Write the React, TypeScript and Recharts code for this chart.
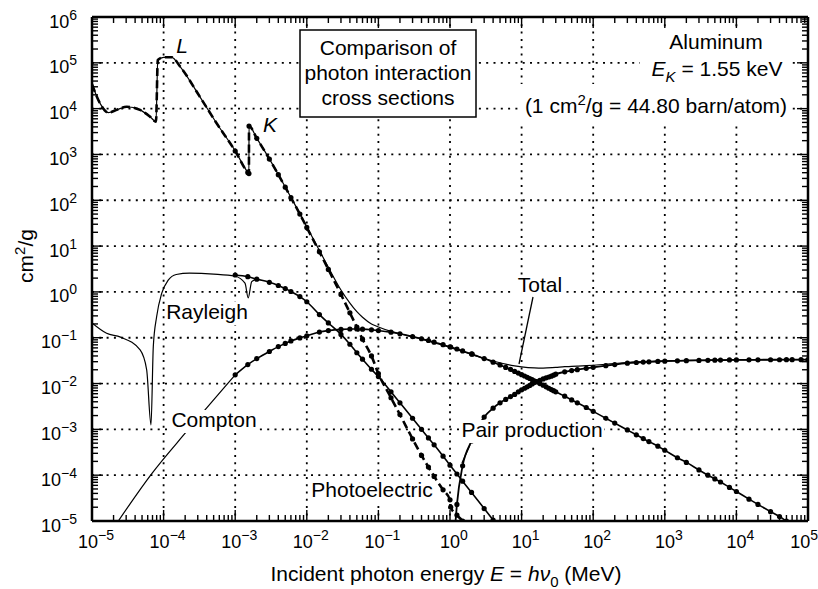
import React from "react";
import { LineChart, Line, XAxis, YAxis, CartesianGrid } from "recharts";

const FONT = '"Liberation Sans", Arial, Helvetica, sans-serif';

// axis decades (MeV / cm2/g)
const xDecades = [1e-5, 1e-4, 1e-3, 1e-2, 1e-1, 1, 10, 100, 1e3, 1e4, 1e5];
const yDecades = [1e-5, 1e-4, 1e-3, 1e-2, 1e-1, 1, 10, 100, 1e3, 1e4, 1e5, 1e6];
const minorSteps = [2, 3, 4, 5, 6, 7, 8, 9];

// total / photoelectric below 1 keV (same curve, L edge)
const lowE = [1e-5, 1.29e-5, 1.69e-5, 2.21e-5, 3.05e-5, 4.68e-5, 6.45e-5, 7.83e-5, 8.3e-5, 1e-4, 1.3e-4, 1.7e-4, 3.2e-4, 5.5e-4];
const lowV = [3.4e4, 1.32e4, 8.2e3, 9.4e3, 1.1e4, 9.4e3, 6.7e3, 5.2e3, 1.15e5, 1.32e5, 1.32e5, 8.3e4, 1.83e4, 4.8e3];

// total attenuation, 1 keV and up
const totalE = [1e-3, 1.5e-3, 1.555e-3, 1.5596e-3, 2e-3, 3e-3, 4e-3, 5e-3, 6e-3, 8e-3, 1e-2, 1.5e-2, 2e-2, 3e-2, 4e-2, 5e-2, 6e-2, 8e-2, 0.1, 0.15, 0.2, 0.3, 0.4, 0.5, 0.6, 0.8, 1, 1.25, 1.5, 2, 3, 4, 5, 6, 8, 10, 15, 20, 30, 40, 50, 60, 80, 100, 150, 200, 300, 400, 500, 600, 800, 1e3, 2e3, 5e3, 1e4, 1e5];
const totalV = [1.2e3, 410, 385, 4200, 2260, 800, 365, 195, 116, 51, 26.5, 8.0, 3.45, 1.1, 0.57, 0.37, 0.28, 0.2, 0.172, 0.138, 0.122, 0.104, 0.093, 0.084, 0.078, 0.068, 0.0615, 0.055, 0.05, 0.0432, 0.0354, 0.0311, 0.0284, 0.0266, 0.0244, 0.0232, 0.022, 0.0218, 0.0226, 0.0233, 0.0236, 0.0239, 0.0245, 0.0251, 0.0264, 0.0274, 0.0288, 0.0296, 0.03, 0.0303, 0.0308, 0.0312, 0.0319, 0.0326, 0.033, 0.0334];

// photoelectric, 1 keV and up
const peE = [1e-3, 1.5e-3, 1.555e-3, 1.5596e-3, 2e-3, 3e-3, 4e-3, 5e-3, 6e-3, 8e-3, 1e-2, 1.5e-2, 2e-2, 3e-2, 4e-2, 5e-2, 6e-2, 8e-2, 0.1, 0.15, 0.2, 0.3, 0.4, 0.5, 0.6, 0.8, 1, 1.022, 1.25, 1.5, 2];
const peV = [1.19e3, 405, 382, 4180, 2250, 795, 362, 193, 114, 50, 25.5, 7.5, 3.1, 0.88, 0.35, 0.17, 0.093, 0.04, 0.0165, 4.9e-3, 2.1e-3, 6.2e-4, 2.7e-4, 1.5e-4, 9.4e-5, 4.8e-5, 2.9e-5, 2.0e-5, 1.35e-5, 1.0e-5, 6e-6];

// Rayleigh, low-energy curve (no markers)
const rayLowE = [1e-5, 1.6e-5, 2.5e-5, 4.7e-5, 5.8e-5, 6.67e-5, 7.18e-5, 8.0e-5, 9.4e-5, 1.16e-4, 1.5e-4, 2.3e-4, 5e-4, 1e-3, 1.37e-3, 1.52e-3, 1.7e-3, 2e-3];
const rayLowV = [0.21, 0.125, 0.103, 0.054, 0.02, 1.25e-3, 0.064, 0.29, 0.93, 1.8, 2.4, 2.56, 2.45, 2.2, 1.55, 0.74, 1.68, 1.9];

// Rayleigh, tabulated
const rayE = [1e-3, 1.5e-3, 2e-3, 3e-3, 4e-3, 5e-3, 6e-3, 8e-3, 1e-2, 1.5e-2, 2e-2, 3e-2, 4e-2, 5e-2, 6e-2, 8e-2, 0.1, 0.15, 0.2, 0.3, 0.4, 0.5, 0.6, 0.8, 1, 1.25, 1.5, 2, 3, 4, 5];
const rayV = [2.34, 2.15, 1.9, 1.62, 1.38, 1.18, 1.02, 0.79, 0.61, 0.32, 0.21, 0.118, 0.072, 0.047, 0.034, 0.0205, 0.0142, 6.6e-3, 3.8e-3, 1.75e-3, 1.0e-3, 6.5e-4, 4.6e-4, 2.6e-4, 1.65e-4, 1.06e-4, 7.4e-5, 4.2e-5, 1.87e-5, 1.05e-5, 6.7e-6];

// Compton, low-energy curve (no markers)
const compLowE = [2.33e-5, 6.8e-5, 2.1e-4, 1e-3];
const compLowV = [1.0e-5, 1.07e-4, 9e-4, 0.0155];

// Compton, tabulated
const compE = [1e-3, 1.5e-3, 2e-3, 3e-3, 4e-3, 5e-3, 6e-3, 8e-3, 1e-2, 1.5e-2, 2e-2, 3e-2, 4e-2, 5e-2, 6e-2, 8e-2, 0.1, 0.15, 0.2, 0.3, 0.4, 0.5, 0.6, 0.8, 1, 1.022, 1.25, 1.5, 2, 2.044, 3, 4, 5, 6, 7, 8, 9, 10, 11, 12, 13, 14, 15, 16, 18, 20, 22, 24, 26, 28, 30, 40, 50, 60, 80, 100, 150, 200, 300, 400, 500, 600, 800, 1e3, 1.5e3, 2e3, 3e3, 4e3, 5e3, 6e3, 8e3, 1e4, 1.5e4, 2e4, 3e4, 4e4, 5e4, 6e4];
const compV = [0.0155, 0.026, 0.035, 0.05, 0.064, 0.075, 0.085, 0.099, 0.11, 0.133, 0.143, 0.152, 0.155, 0.155, 0.154, 0.149, 0.143, 0.132, 0.122, 0.106, 0.095, 0.087, 0.08, 0.0706, 0.0635, 0.0628, 0.0567, 0.0515, 0.0442, 0.0437, 0.035, 0.0293, 0.0254, 0.0225, 0.0203, 0.0184, 0.0169, 0.0156, 0.0146, 0.0137, 0.0129, 0.0122, 0.0115, 0.011, 0.01, 0.0092, 0.0085, 0.0079, 0.0074, 0.007, 0.0066, 0.0053, 0.0044, 0.0038, 0.003, 0.00247, 0.00175, 0.00137, 0.00097, 0.00076, 0.00063, 0.00054, 0.00043, 0.00035, 0.00024, 0.00019, 0.00013, 1.0e-4, 8.3e-5, 7.1e-5, 5.4e-5, 4.4e-5, 3.0e-5, 2.3e-5, 1.6e-5, 1.25e-5, 1.0e-5, 8.6e-6];

// pair production
const pairE = [1.1, 1.25, 1.5, 2, 3, 4, 5, 6, 7, 8, 9, 10, 11, 12, 13, 14, 15, 16, 18, 20, 22, 24, 26, 28, 30, 40, 50, 60, 80, 100, 150, 200, 300, 400, 500, 600, 800, 1e3, 1.5e3, 2e3, 3e3, 4e3, 5e3, 6e3, 8e3, 1e4, 1.5e4, 2e4, 3e4, 4e4, 5e4, 6e4, 8e4, 1e5];
const pairV = [1.5e-6, 2.3e-5, 1.6e-4, 5.6e-4, 1.85e-3, 2.9e-3, 3.8e-3, 4.5e-3, 5.2e-3, 5.8e-3, 6.6e-3, 7.3e-3, 7.9e-3, 8.5e-3, 9.1e-3, 9.8e-3, 0.0105, 0.011, 0.0118, 0.0126, 0.0133, 0.0139, 0.0145, 0.0152, 0.016, 0.018, 0.0192, 0.0201, 0.0215, 0.0226, 0.0246, 0.026, 0.0278, 0.0288, 0.0294, 0.0298, 0.0304, 0.0308, 0.0313, 0.0316, 0.032, 0.0322, 0.0324, 0.0325, 0.0327, 0.0328, 0.0329, 0.033, 0.0331, 0.0331, 0.0332, 0.0332, 0.0332, 0.0332];

const pts = (xs: number[], ys: number[]) => xs.map((x, i) => ({ x, y: ys[i] }));

const totalData = pts([...lowE, ...totalE], [...lowV, ...totalV]);
const peData = pts([...lowE, ...peE], [...lowV, ...peV]);
const rayLowData = pts(rayLowE, rayLowV);
const rayData = pts(rayE, rayV);
const compLowData = pts(compLowE, compLowV);
const compData = pts(compE, compV);
const pairData = pts(pairE, pairV);

const withMinors = (dec: number[]) =>
  dec.flatMap((d, i) => (i < dec.length - 1 ? [d, ...minorSteps.map((m) => m * d)] : [d]));
const xTicks = withMinors(xDecades);
const yTicks = withMinors(yDecades);

const isMajor = (v: number) => Math.abs(Math.log10(v) - Math.round(Math.log10(v))) < 1e-6;
const expText = (v: number) => {
  const e = Math.round(Math.log10(v));
  return e < 0 ? "\u2212" + -e : String(e);
};

const MAJ = 11;
const MIN = 6;
const tickStroke = { stroke: "#000", strokeWidth: 1.4 };

function BottomTick(props: any) {
  const { x, y, payload } = props;
  const v = payload.value;
  const major = isMajor(v);
  const last = v >= 1e5 * 0.999;
  return (
    <g>
      <line x1={x} x2={x} y1={y} y2={y - (major ? MAJ : MIN)} {...tickStroke} />
      {major && (
        <text
          x={last ? 818 : x + 4}
          y={y + 27}
          textAnchor={last ? "end" : "middle"}
          fontSize={18}
          fontFamily={FONT}
          fill="#000"
        >
          10
          <tspan dy={-8} fontSize={14}>
            {expText(v)}
          </tspan>
        </text>
      )}
    </g>
  );
}

function TopTick(props: any) {
  const { x, y, payload } = props;
  const major = isMajor(payload.value);
  return <line x1={x} x2={x} y1={y} y2={y + (major ? MAJ : MIN)} {...tickStroke} />;
}

function LeftTick(props: any) {
  const { x, y, payload } = props;
  const v = payload.value;
  const major = isMajor(v);
  return (
    <g>
      <line x1={x} x2={x + (major ? MAJ : MIN)} y1={y} y2={y} {...tickStroke} />
      {major && (
        <text x={x - 15} y={y + 10.5} textAnchor="end" fontSize={18} fontFamily={FONT} fill="#000">
          10
          <tspan dy={-8} fontSize={14}>
            {expText(v)}
          </tspan>
        </text>
      )}
    </g>
  );
}

function RightTick(props: any) {
  const { x, y, payload } = props;
  const major = isMajor(payload.value);
  return <line x1={x} x2={x - (major ? MAJ : MIN)} y1={y} y2={y} {...tickStroke} />;
}

const markers = (r: number) => (p: any) =>
  p.payload && p.payload.x >= 1e-3 ? (
    <circle key={"d" + p.index} cx={p.cx} cy={p.cy} r={r} fill="#000" stroke="none" />
  ) : (
    <g key={"n" + p.index} />
  );

function Label({ cx, base, w, text }: { cx: number; base: number; w: number; text: string }) {
  return (
    <g>
      <rect x={cx - w / 2 - 2} y={base - 17} width={w + 4} height={23} fill="#fff" />
      <text x={cx} y={base} textAnchor="middle">
        {text}
      </text>
    </g>
  );
}

export default function App() {
  const axisLine = { stroke: "#000", strokeWidth: 2.5 };
  return (
    <div style={{ position: "absolute", left: 0, top: 0, width: 818, height: 589, background: "#fff" }}>
      <LineChart width={818} height={589} margin={{ top: 0, right: 0, bottom: 0, left: 0 }}>
        <CartesianGrid
          stroke="#000"
          strokeWidth={1.8}
          strokeDasharray="2 5.3"
          verticalValues={xDecades}
          horizontalValues={yDecades}
        />
        <XAxis
          dataKey="x"
          type="number"
          scale="log"
          domain={[1e-5, 1e5]}
          allowDataOverflow
          ticks={xTicks}
          interval={0}
          height={68}
          tickSize={0}
          tickMargin={0}
          tickLine={false}
          axisLine={axisLine}
          tick={<BottomTick />}
        />
        <XAxis
          xAxisId="top"
          orientation="top"
          dataKey="x"
          type="number"
          scale="log"
          domain={[1e-5, 1e5]}
          allowDataOverflow
          ticks={xTicks}
          interval={0}
          height={17}
          tickSize={0}
          tickMargin={0}
          tickLine={false}
          axisLine={axisLine}
          tick={<TopTick />}
        />
        <YAxis
          type="number"
          scale="log"
          domain={[1e-5, 1e6]}
          allowDataOverflow
          ticks={yTicks}
          interval={0}
          width={92}
          tickSize={0}
          tickMargin={0}
          tickLine={false}
          axisLine={axisLine}
          tick={<LeftTick />}
        />
        <YAxis
          yAxisId="right"
          orientation="right"
          type="number"
          scale="log"
          domain={[1e-5, 1e6]}
          allowDataOverflow
          ticks={yTicks}
          interval={0}
          width={10}
          tickSize={0}
          tickMargin={0}
          tickLine={false}
          axisLine={axisLine}
          tick={<RightTick />}
        />
        <Line data={totalData} dataKey="y" type="monotone" stroke="#000" strokeWidth={1.2} dot={false} isAnimationActive={false} />
        <Line data={rayLowData} dataKey="y" type="monotone" stroke="#000" strokeWidth={1.2} dot={false} isAnimationActive={false} />
        <Line data={compLowData} dataKey="y" type="monotone" stroke="#000" strokeWidth={1.2} dot={false} isAnimationActive={false} />
        <Line data={rayData} dataKey="y" type="monotone" stroke="#000" strokeWidth={1.6} dot={markers(2.6)} isAnimationActive={false} />
        <Line data={compData} dataKey="y" type="monotone" stroke="#000" strokeWidth={1.6} dot={markers(2.6)} isAnimationActive={false} />
        <Line data={pairData} dataKey="y" type="monotone" stroke="#000" strokeWidth={1.8} dot={markers(2.6)} isAnimationActive={false} />
        <Line data={peData} dataKey="y" type="monotone" stroke="#000" strokeWidth={2.6} strokeDasharray="8 4" dot={markers(2.6)} isAnimationActive={false} />
      </LineChart>

      <svg
        width={818}
        height={589}
        style={{ position: "absolute", left: 0, top: 0, pointerEvents: "none" }}
        fontFamily={FONT}
        fontSize={21}
        fill="#000"
      >
        {/* title box */}
        <rect x={300} y={30} width={176} height={87} fill="#fff" stroke="#000" strokeWidth={1.5} />
        <text x={388} y={55} textAnchor="middle">Comparison of</text>
        <text x={388} y={80} textAnchor="middle">photon interaction</text>
        <text x={388} y={105} textAnchor="middle">cross sections</text>

        {/* material info */}
        <rect x={640} y={28} width={152} height={56} fill="#fff" />
        <rect x={520} y={84} width={272} height={38} fill="#fff" />
        <text x={716} y={49} textAnchor="middle">Aluminum</text>
        <text x={717} y={76} textAnchor="middle">
          <tspan fontStyle="italic">E</tspan>
          <tspan fontStyle="italic" fontSize={15} dy={6}>K</tspan>
          <tspan dy={-6}>{" = 1.55 keV"}</tspan>
        </text>
        <text x={656} y={113} textAnchor="middle">
          {"(1 cm"}
          <tspan fontSize={15} dy={-8}>2</tspan>
          <tspan dy={8}>{"/g = 44.80 barn/atom)"}</tspan>
        </text>

        {/* edge labels */}
        <text x={182} y={53} textAnchor="middle" fontStyle="italic">L</text>
        <text x={270} y={132} textAnchor="middle" fontStyle="italic">K</text>

        {/* curve labels */}
        <Label cx={207} base={319} w={80} text="Rayleigh" />
        <Label cx={214} base={427} w={85} text="Compton" />
        <Label cx={372} base={497} w={121} text="Photoelectric" />
        <Label cx={532} base={437} w={141} text="Pair production" />
        <Label cx={540} base={292} w={46} text="Total" />
        <line x1={533} y1={297} x2={519} y2={364} stroke="#000" strokeWidth={1.3} />
        <line x1={470} y1={445} x2={462} y2={463} stroke="#000" strokeWidth={1.3} />

        {/* axis titles */}
        <text x={446} y={581} textAnchor="middle">
          {"Incident photon energy "}
          <tspan fontStyle="italic">E</tspan>
          {" = "}
          <tspan fontStyle="italic">h</tspan>
          <tspan fontStyle="italic">{"\u03bd"}</tspan>
          <tspan fontSize={15} dy={6}>0</tspan>
          <tspan dy={-6}>{" (MeV)"}</tspan>
        </text>
        <text x={33} y={256} textAnchor="middle" transform="rotate(-90 33 256)">
          cm
          <tspan fontSize={15} dy={-8}>2</tspan>
          <tspan dy={8}>/g</tspan>
        </text>
      </svg>
    </div>
  );
}
